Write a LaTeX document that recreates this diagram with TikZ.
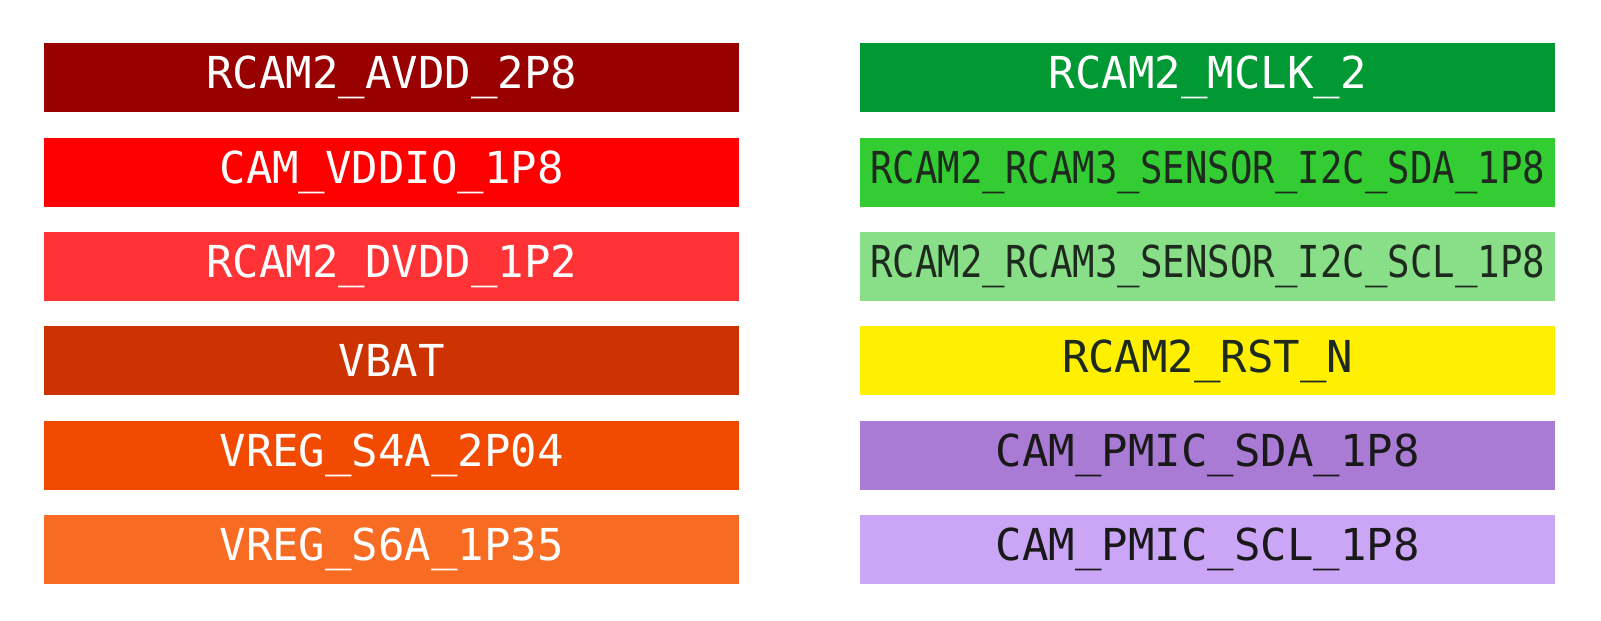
\documentclass[tikz,border=0pt]{standalone}
\usepackage{fontspec}
\setmonofont{DejaVu Sans Mono}
\definecolor{cAVDD}{HTML}{990000}
\definecolor{cVDDIO}{HTML}{FF0000}
\definecolor{cDVDD}{HTML}{FF3336}
\definecolor{cVBAT}{HTML}{CC3300}
\definecolor{cSfour}{HTML}{F24A00}
\definecolor{cSsix}{HTML}{F86B22}
\definecolor{cMCLK}{HTML}{009933}
\definecolor{cSDA}{HTML}{33CC33}
\definecolor{cSCL}{HTML}{88DF88}
\definecolor{cRST}{HTML}{FFF000}
\definecolor{cPSDA}{HTML}{A97BD5}
\definecolor{cPSCL}{HTML}{CCA6F6}
\definecolor{darktxt}{HTML}{1E2A1E}
\begin{document}
\begin{tikzpicture}[x=1pt,y=-1pt,
  sig/.style={minimum width=695pt,minimum height=69pt,inner sep=0pt,anchor=north west,
    font=\fontsize{44}{48}\selectfont\ttfamily},
  light/.style={sig,text=white},
  dark/.style={sig,text=darktxt},
  blacktxt/.style={sig,text=black!90}]
\useasboundingbox (0,0) rectangle (1601,621);
\fill[white] (0,0) rectangle (1601,621);
% left column
\node[light,fill=cAVDD]  (avdd)  at (44,43)    {RCAM2\_AVDD\_2P8};
\node[light,fill=cVDDIO] (vddio) at (44,137.4) {CAM\_VDDIO\_1P8};
\node[light,fill=cDVDD]  (dvdd)  at (44,231.8) {RCAM2\_DVDD\_1P2};
\node[light,fill=cVBAT]  (vbat)  at (44,326.2) {VBAT};
\node[light,fill=cSfour] (sfour) at (44,420.6) {VREG\_S4A\_2P04};
\node[light,fill=cSsix]  (ssix)  at (44,515)   {VREG\_S6A\_1P35};
% right column
\node[light,fill=cMCLK]  (mclk)  at (860,43)    {RCAM2\_MCLK\_2};
\node[dark,fill=cSDA]    (sda)   at (860,137.4) {\scalebox{0.849}[1]{RCAM2\_RCAM3\_SENSOR\_I2C\_SDA\_1P8}};
\node[dark,fill=cSCL]    (scl)   at (860,231.8) {\scalebox{0.849}[1]{RCAM2\_RCAM3\_SENSOR\_I2C\_SCL\_1P8}};
\node[dark,fill=cRST]    (rst)   at (860,326.2) {RCAM2\_RST\_N};
\node[blacktxt,fill=cPSDA] (psda) at (860,420.6) {CAM\_PMIC\_SDA\_1P8};
\node[blacktxt,fill=cPSCL] (pscl) at (860,515)   {CAM\_PMIC\_SCL\_1P8};
\end{tikzpicture}
\end{document}
